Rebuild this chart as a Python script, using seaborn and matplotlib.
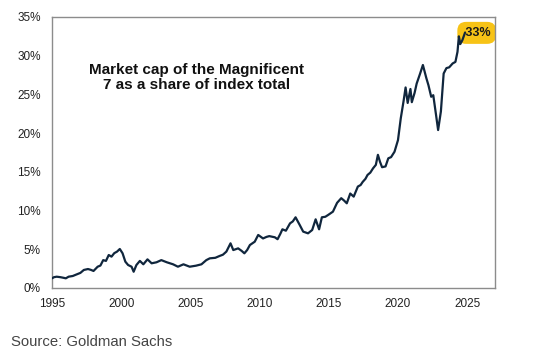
import matplotlib
matplotlib.use("Agg")
import matplotlib.pyplot as plt
import matplotlib.ticker as mticker
import pandas as pd
import seaborn as sns

# share of index total (%)
years = [
    1995.0, 1995.15, 1995.34, 1995.6, 1995.8, 1996.0, 1996.2, 1996.5, 1996.8, 1997.05,
    1997.3, 1997.6, 1997.8, 1998.0, 1998.3, 1998.5, 1998.7, 1998.9, 1999.1, 1999.3,
    1999.5, 1999.7, 1999.9, 2000.1, 2000.3, 2000.5, 2000.75, 2000.9, 2001.1, 2001.35,
    2001.6, 2001.9, 2002.2, 2002.55, 2002.9, 2003.3, 2003.75, 2004.1, 2004.5, 2004.95,
    2005.4, 2005.8, 2006.15, 2006.4, 2006.8, 2007.1, 2007.35, 2007.6, 2007.9, 2008.1,
    2008.45, 2008.7, 2008.9, 2009.1, 2009.3, 2009.65, 2009.9, 2010.25, 2010.5, 2010.7,
    2011.1, 2011.3, 2011.5, 2011.65, 2011.9, 2012.2, 2012.4, 2012.6, 2012.9, 2013.15,
    2013.5, 2013.8, 2014.05, 2014.3, 2014.5, 2014.75, 2014.95, 2015.3, 2015.6, 2015.9,
    2016.1, 2016.3, 2016.55, 2016.8, 2017.1, 2017.3, 2017.45, 2017.65, 2017.8, 2018.0,
    2018.2, 2018.4, 2018.55, 2018.7, 2018.85, 2019.1, 2019.3, 2019.5, 2019.75, 2020.0,
    2020.2, 2020.4, 2020.55, 2020.7, 2020.9, 2021.0, 2021.2, 2021.35, 2021.6, 2021.8,
    2022.05, 2022.2, 2022.4, 2022.55, 2022.75, 2022.9, 2023.1, 2023.3, 2023.5, 2023.7,
    2023.95, 2024.15, 2024.3, 2024.4, 2024.5, 2024.65, 2024.85,
]
share = [
    1.25, 1.4, 1.46, 1.4, 1.33, 1.25, 1.46, 1.55, 1.77, 1.95,
    2.33, 2.45, 2.35, 2.2, 2.75, 2.9, 3.6, 3.5, 4.26, 4.05,
    4.5, 4.7, 5.04, 4.48, 3.4, 2.97, 2.75, 2.1, 2.97, 3.5,
    3.06, 3.7, 3.19, 3.32, 3.6, 3.32, 3.06, 2.75, 3.06, 2.75,
    2.88, 3.06, 3.6, 3.83, 3.9, 4.13, 4.3, 4.7, 5.77, 4.9,
    5.12, 4.8, 4.48, 4.9, 5.55, 5.98, 6.85, 6.4, 6.6, 6.7,
    6.55, 6.3, 7.0, 7.58, 7.4, 8.35, 8.6, 9.13, 8.14, 7.28,
    7.06, 7.49, 8.87, 7.58, 9.13, 9.2, 9.43, 9.86, 11.0, 11.6,
    11.3, 10.94, 12.2, 11.8, 13.1, 13.3, 13.7, 14.1, 14.6, 14.9,
    15.46, 15.9, 17.2, 16.3, 15.6, 15.7, 16.75, 16.9, 17.6, 19.1,
    21.9, 24.1, 25.9, 23.9, 25.7, 24.0, 25.2, 26.4, 27.7, 28.8,
    27.1, 26.2, 24.7, 24.9, 22.35, 20.4, 22.8, 27.7, 28.4, 28.5,
    29.0, 29.2, 30.5, 32.5, 31.5, 32.0, 33.0,
]

x_ticks = [1995, 2000, 2005, 2010, 2015, 2020, 2025]
y_ticks = [0, 5, 10, 15, 20, 25, 30, 35]

title_text = "Market cap of the Magnificent\n7 as a share of index total"
end_label = "33%"
source_text = "Source: Goldman Sachs"

NAVY = "#10263d"
GOLD = "#f7c316"


def main() -> None:
    sns.set_theme(style="white")
    plt.rcParams["font.family"] = ["Liberation Sans", "DejaVu Sans"]

    df = pd.DataFrame({"year": years, "share": share})

    fig = plt.figure(figsize=(5.45, 3.6), dpi=100)
    ax = fig.add_axes([0.0954, 0.2, 0.8126, 0.7528])

    sns.lineplot(data=df, x="year", y="share", ax=ax, color=NAVY, linewidth=1.6, zorder=3)

    ax.set_xlim(1995, 2027)
    ax.set_ylim(0, 35)
    ax.set_xticks(x_ticks)
    ax.set_yticks(y_ticks)
    ax.yaxis.set_major_formatter(mticker.FuncFormatter(lambda v, _: f"{v:.0f}%"))
    ax.tick_params(axis="both", length=0, labelsize=8.5, colors="#222222")
    ax.tick_params(axis="y", pad=8)
    ax.tick_params(axis="x", pad=7)
    ax.set_xlabel("")
    ax.set_ylabel("")
    for spine in ax.spines.values():
        spine.set_color("#8c8c8c")
        spine.set_linewidth(1.0)

    ax.text(0.327, 0.777, title_text, transform=ax.transAxes, ha="center", va="center",
            fontsize=11, fontweight="bold", color="#111111", linespacing=1.05)

    ax.text(years[-1] - 0.2, share[-1] - 0.05, " " + end_label, ha="left", va="center",
            fontsize=9, fontweight="bold", color="#1a1a1a", zorder=2,
            bbox=dict(boxstyle="round,pad=0.4,rounding_size=0.7", fc=GOLD, ec="none"))

    fig.text(0.02, 0.051, source_text, ha="left", va="center", fontsize=10.7, color="#444444")

    fig.savefig("out.png", dpi=100)
    plt.close(fig)


if __name__ == "__main__":
    main()
